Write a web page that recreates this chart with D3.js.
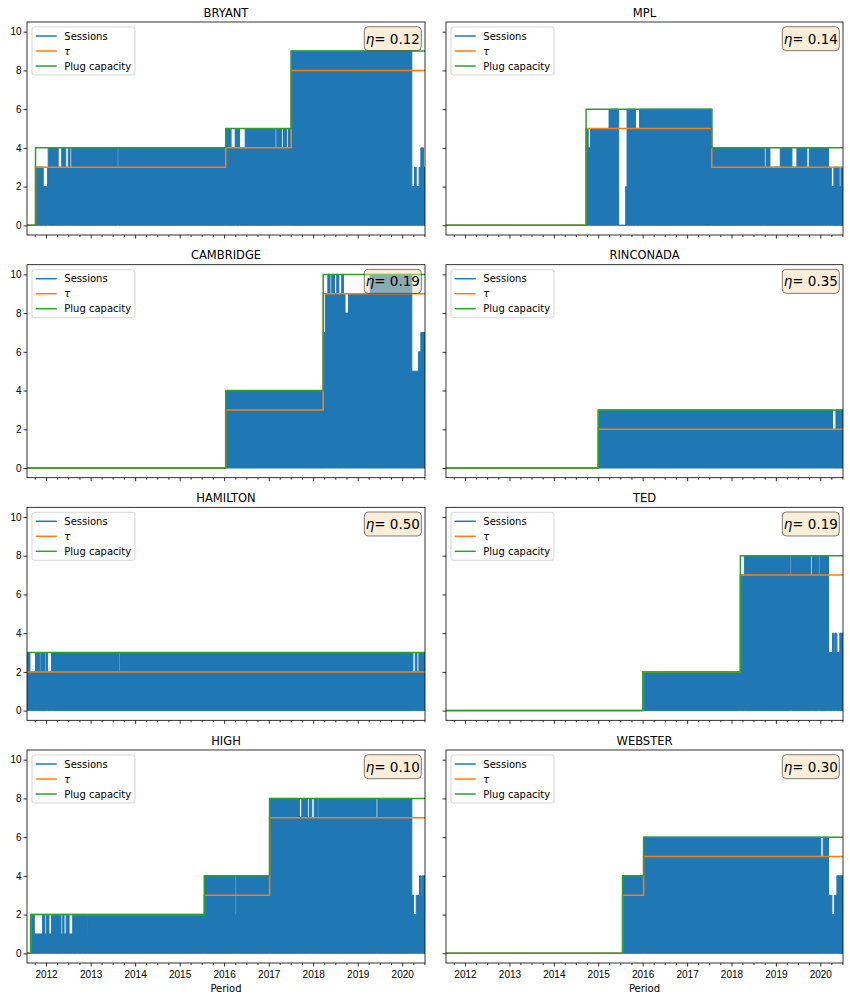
<!DOCTYPE html>
<html>
<head>
<meta charset="utf-8">
<script src="https://cdn.jsdelivr.net/npm/d3@7"></script>
<style>
  body { margin: 0; background: #fff; }
  svg { display: block; font-family: "DejaVu Sans", sans-serif; }
</style>
</head>
<body>
<div id="chart"></div>
<script>
// station panels, in reading order (2 columns x 4 rows)
const stations = ["BRYANT", "MPL", "CAMBRIDGE", "RINCONADA", "HAMILTON", "TED", "HIGH", "WEBSTER"];
const eta = [0.12, 0.14, 0.19, 0.35, 0.50, 0.19, 0.10, 0.30];

const periodStart = "2011-07-29";
const periodEnd = "2020-07-06";
const yTicks = [0, 2, 4, 6, 8, 10];

const seriesNames = ["Sessions", "τ", "Plug capacity"];
const seriesColors = ["#1f77b4", "#ff7f0e", "#2ca02c"];

// step series: [start date, value] -> value holds until the next entry
const plugCapacity = [
  [["2011-07-29", 0], ["2011-10-07", 4], ["2016-01-14", 5], ["2017-07-04", 9]],
  [["2011-07-29", 0], ["2014-09-23", 6], ["2017-07-23", 4]],
  [["2011-07-29", 0], ["2016-01-14", 4], ["2018-03-24", 10]],
  [["2011-07-29", 0], ["2015-01-01", 3]],
  [["2011-07-29", 3]],
  [["2011-07-29", 0], ["2016-01-03", 2], ["2018-03-15", 8]],
  [["2011-07-29", 0], ["2011-08-28", 2], ["2015-07-23", 4], ["2017-01-08", 8]],
  [["2011-07-29", 0], ["2015-07-20", 4], ["2016-01-09", 6]]
];

const tau = [
  [["2011-07-29", 0], ["2011-10-07", 3], ["2016-01-14", 4], ["2017-07-04", 8]],
  [["2011-07-29", 0], ["2014-09-23", 5], ["2017-07-23", 3]],
  [["2011-07-29", 0], ["2016-01-14", 3], ["2018-03-24", 9]],
  [["2011-07-29", 0], ["2015-01-01", 2]],
  [["2011-07-29", 2]],
  [["2011-07-29", 0], ["2016-01-03", 2], ["2018-03-15", 7]],
  [["2011-07-29", 0], ["2011-08-28", 2], ["2015-07-23", 3], ["2017-01-08", 7]],
  [["2011-07-29", 0], ["2015-07-20", 3], ["2016-01-09", 5]]
];

// peak number of simultaneous sessions over each stretch (the blue band)
const sessionsPeak = [
  [["2011-07-29", 0], ["2011-10-07", 3], ["2011-12-09", 2], ["2012-01-14", 3], ["2012-01-19", 4],
   ["2012-04-10", 3], ["2012-05-09", 4], ["2012-06-11", 3], ["2012-07-02", 4], ["2012-07-16", 3],
   ["2012-07-30", 4], ["2013-08-08", 3], ["2013-08-19", 4], ["2016-01-14", 5], ["2016-02-27", 4],
   ["2016-04-01", 5], ["2016-05-07", 4], ["2016-06-22", 5], ["2017-02-23", 4], ["2017-03-08", 5],
   ["2017-04-18", 4], ["2017-05-02", 5], ["2017-05-29", 4], ["2017-06-12", 5], ["2017-07-04", 9],
   ["2020-03-20", 2], ["2020-04-11", 3], ["2020-04-25", 2], ["2020-05-19", 3], ["2020-06-02", 4],
   ["2020-06-24", 3]],
  [["2011-07-29", 0], ["2014-09-23", 5], ["2014-10-10", 4], ["2014-10-29", 5], ["2015-03-31", 6],
   ["2015-06-18", 0], ["2015-08-15", 2], ["2015-08-26", 6], ["2015-11-04", 5], ["2015-12-07", 6],
   ["2017-07-23", 4], ["2018-09-28", 3], ["2018-10-12", 4], ["2018-11-13", 3], ["2019-02-06", 4],
   ["2019-05-13", 3], ["2019-06-23", 4], ["2019-09-13", 3], ["2019-10-02", 4], ["2020-03-09", 3],
   ["2020-04-01", 2], ["2020-04-22", 3], ["2020-06-05", 2], ["2020-06-19", 3]],
  [["2011-07-29", 0], ["2016-01-14", 4], ["2018-03-24", 7], ["2018-04-10", 9], ["2018-05-01", 10],
   ["2018-05-19", 9], ["2018-06-02", 10], ["2018-06-24", 9], ["2018-07-13", 10], ["2018-07-30", 9],
   ["2018-08-23", 10], ["2018-09-06", 9], ["2018-09-19", 8], ["2018-10-17", 9], ["2019-04-13", 10],
   ["2020-03-20", 5], ["2020-05-14", 6], ["2020-06-02", 7]],
  [["2011-07-29", 0], ["2015-01-01", 3], ["2020-04-11", 2], ["2020-05-09", 3]],
  [["2011-07-29", 3], ["2011-08-22", 2], ["2011-10-07", 3], ["2011-11-12", 2], ["2011-11-20", 3],
   ["2011-12-23", 2], ["2012-01-01", 3], ["2012-01-14", 2], ["2012-02-16", 3], ["2013-08-22", 2],
   ["2013-08-30", 3], ["2020-03-29", 2], ["2020-04-17", 3], ["2020-05-01", 2], ["2020-05-17", 3]],
  [["2011-07-29", 0], ["2016-01-03", 2], ["2018-03-15", 7], ["2018-04-17", 8], ["2019-04-29", 7],
   ["2019-05-10", 8], ["2019-10-16", 7], ["2019-10-29", 8], ["2019-12-17", 7], ["2019-12-28", 8],
   ["2020-03-09", 3], ["2020-04-11", 4], ["2020-04-25", 3], ["2020-05-03", 4], ["2020-05-17", 3],
   ["2020-06-10", 4]],
  [["2011-07-29", 0], ["2011-08-28", 2], ["2011-09-27", 1], ["2011-12-04", 2], ["2011-12-23", 1],
   ["2012-01-06", 2], ["2012-01-25", 1], ["2012-02-16", 2], ["2012-05-03", 1], ["2012-05-17", 2],
   ["2012-05-28", 1], ["2012-06-14", 2], ["2012-07-08", 1], ["2012-08-07", 2], ["2012-09-22", 1],
   ["2012-09-26", 2], ["2012-12-04", 1], ["2012-12-08", 2], ["2015-07-23", 4], ["2016-04-01", 2],
   ["2016-04-10", 4], ["2017-01-08", 8], ["2017-09-10", 7], ["2017-09-29", 8], ["2017-11-17", 7],
   ["2017-12-01", 8], ["2017-12-20", 7], ["2018-01-09", 8], ["2018-02-08", 7], ["2018-02-16", 8],
   ["2019-06-01", 7], ["2019-06-15", 8], ["2020-03-20", 3], ["2020-04-03", 2], ["2020-04-25", 3],
   ["2020-05-22", 4], ["2020-06-05", 3], ["2020-06-13", 4]],
  [["2011-07-29", 0], ["2015-07-20", 4], ["2016-01-09", 6], ["2020-01-06", 5], ["2020-01-25", 6],
   ["2020-03-09", 3], ["2020-04-06", 2], ["2020-04-28", 3], ["2020-05-17", 4]]
];

const width = 850;
const height = 1000;
const cols = [{ x: 27, w: 398 }, { x: 446, w: 397 }];
const rowTop = [22, 264.7, 507.3, 750];
const panelH = 213;

const parse = d3.timeParse("%Y-%m-%d");
const t0 = parse(periodStart);
const t1 = parse(periodEnd);

function toSteps(rows) {
  const pts = rows.map(([d, v]) => ({ date: parse(d), value: v }));
  pts.push({ date: t1, value: pts[pts.length - 1].value });
  return pts;
}

const svg = d3
  .select("#chart")
  .append("svg")
  .attr("width", width)
  .attr("height", height);

function styleAxis(a) {
  a.select(".domain").remove();
  a.selectAll(".tick line").attr("stroke", "#000").attr("stroke-width", 0.8);
  a.selectAll(".tick text").attr("fill", "#000").attr("font-size", 10);
}

stations.forEach((name, i) => {
  const col = i % 2;
  const row = Math.floor(i / 2);
  const w = cols[col].w;
  const h = panelH;

  const x = d3.scaleTime().domain([t0, t1]).range([0, w]);
  const y = d3.scaleLinear().domain([-0.5, 10.5]).range([h, 0]);

  const g = svg.append("g").attr("transform", `translate(${cols[col].x},${rowTop[row]})`);

  g.append("clipPath")
    .attr("id", "clip" + i)
    .append("rect")
    .attr("width", w)
    .attr("height", h);

  const plot = g.append("g").attr("clip-path", `url(#clip${i})`);

  const area = d3
    .area()
    .curve(d3.curveStepAfter)
    .x((d) => x(d.date))
    .y0(y(0))
    .y1((d) => y(d.value));

  const line = d3
    .line()
    .curve(d3.curveStepAfter)
    .x((d) => x(d.date))
    .y((d) => y(d.value));

  plot.append("path")
    .datum(toSteps(sessionsPeak[i]))
    .attr("d", area)
    .attr("fill", seriesColors[0])
    .attr("stroke", seriesColors[0])
    .attr("stroke-width", 1);

  plot.append("path")
    .datum(toSteps(tau[i]))
    .attr("d", line)
    .attr("fill", "none")
    .attr("stroke", seriesColors[1])
    .attr("stroke-width", 1.5);

  plot.append("path")
    .datum(toSteps(plugCapacity[i]))
    .attr("d", line)
    .attr("fill", "none")
    .attr("stroke", seriesColors[2])
    .attr("stroke-width", 1.5);

  // axes
  const yAxis = d3.axisLeft(y)
    .tickValues(yTicks)
    .tickSize(3.5)
    .tickPadding(2)
    .tickFormat(col === 0 ? d3.format("d") : () => "");
  g.append("g").call(yAxis).call(styleAxis);

  const xMajor = d3.axisBottom(x)
    .ticks(d3.timeYear.every(1))
    .tickSize(3.5)
    .tickPadding(4.5)
    .tickFormat(row === 3 ? d3.timeFormat("%Y") : () => "");
  g.append("g").attr("transform", `translate(0,${h})`).call(xMajor).call(styleAxis);

  const minorTicks = d3.timeMonth.every(3).range(t0, t1).filter((d) => d.getMonth() !== 0);
  const xMinor = d3.axisBottom(x).tickValues(minorTicks).tickSize(2).tickFormat(() => "");
  g.append("g").attr("transform", `translate(0,${h})`).call(xMinor).call(styleAxis);

  g.append("rect")
    .attr("width", w)
    .attr("height", h)
    .attr("fill", "none")
    .attr("stroke", "#000")
    .attr("stroke-width", 0.8);

  g.append("text")
    .attr("x", w / 2)
    .attr("y", -5.3)
    .attr("text-anchor", "middle")
    .attr("font-size", 11.5)
    .attr("fill", "#000")
    .text(name);

  if (row === 3) {
    g.append("text")
      .attr("x", w / 2)
      .attr("y", h + 29)
      .attr("text-anchor", "middle")
      .attr("font-size", 10)
      .attr("fill", "#000")
      .text("Period");
  }

  // eta annotation box
  const bw = 57, bh = 24;
  const bx = w - 3.7 - bw, by = 4.7;
  g.append("rect")
    .attr("x", bx)
    .attr("y", by)
    .attr("width", bw)
    .attr("height", bh)
    .attr("rx", 4)
    .attr("fill", "wheat")
    .attr("fill-opacity", 0.5)
    .attr("stroke", "#000")
    .attr("stroke-opacity", 0.5)
    .attr("stroke-width", 1);
  const label = g.append("text")
    .attr("x", bx + bw / 2)
    .attr("y", by + bh / 2)
    .attr("dy", "0.36em")
    .attr("text-anchor", "middle")
    .attr("font-size", 13.5)
    .attr("fill", "#000");
  label.append("tspan").attr("font-style", "italic").text("η");
  label.append("tspan").text("= " + eta[i].toFixed(2));

  // legend
  const lg = g.append("g").attr("transform", "translate(5,5)");
  lg.append("rect")
    .attr("width", 103)
    .attr("height", 48)
    .attr("rx", 2.5)
    .attr("fill", "#fff")
    .attr("fill-opacity", 0.8)
    .attr("stroke", "#ccc")
    .attr("stroke-opacity", 0.8)
    .attr("stroke-width", 1);
  seriesNames.forEach((s, k) => {
    const ly = 9 + k * 15;
    lg.append("line")
      .attr("x1", 3.7)
      .attr("x2", 24.7)
      .attr("y1", ly)
      .attr("y2", ly)
      .attr("stroke", seriesColors[k])
      .attr("stroke-width", 1.5);
    lg.append("text")
      .attr("x", 32.3)
      .attr("y", ly)
      .attr("dy", "0.35em")
      .attr("font-size", 10)
      .attr("font-style", k === 1 ? "italic" : "normal")
      .attr("fill", "#000")
      .text(s);
  });
});
</script>
</body>
</html>
